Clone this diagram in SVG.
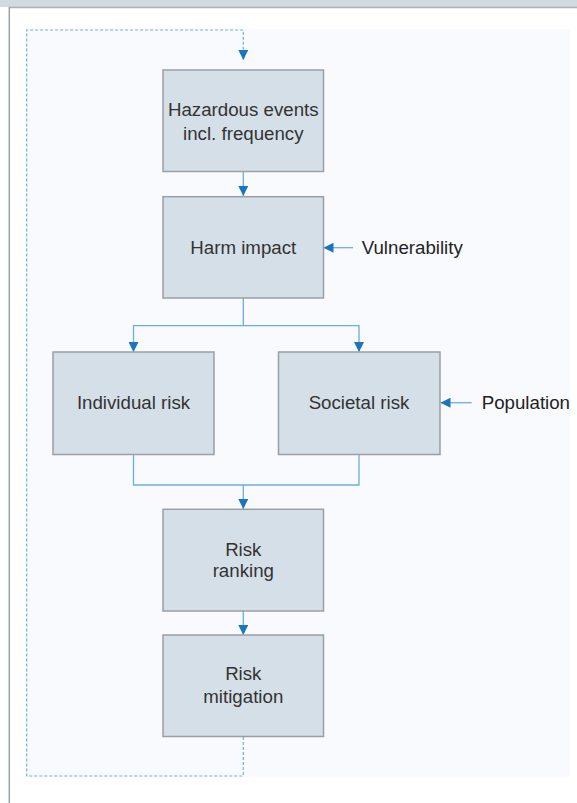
<svg xmlns="http://www.w3.org/2000/svg" width="577" height="803" viewBox="0 0 577 803">
<style>
.box{fill:#d5dfe8;stroke:#9a9fa4;stroke-width:1.5}
.t{font-family:"Liberation Sans",Arial,sans-serif;font-size:18.7px;fill:#333;text-anchor:middle}
.lbl{font-family:"Liberation Sans",Arial,sans-serif;font-size:18.7px;fill:#222}
.c{fill:none;stroke:#6aaee0;stroke-width:1.3}
.d{fill:none;stroke:#6ab4e6;stroke-width:1.2;stroke-dasharray:3 2}
</style>
<defs>
<marker id="ah" viewBox="0 0 10 10" refX="10" refY="5" markerWidth="10" markerHeight="10" markerUnits="userSpaceOnUse" orient="auto">
<path d="M0,0 L10,5 L0,10 Z" fill="#1b74be"/>
</marker>
<clipPath id="clip"><rect x="0" y="0" width="570" height="803"/></clipPath>
</defs>
<rect width="577" height="803" fill="#fff"/>
<rect x="0" y="0" width="577" height="7" fill="#d1d9e1"/>
<line x1="9" y1="7.5" x2="577" y2="7.5" stroke="#a9b1b9" stroke-width="1.5"/>
<line x1="9.3" y1="7" x2="9.3" y2="803" stroke="#9aa2aa" stroke-width="1.5"/>
<rect x="26" y="29" width="544" height="748" fill="#f9fafd"/>
<g id="connectors">
<path class="d" d="M243.3,737 V776 H26.7 V30 H243.3 V60" marker-end="url(#ah)"/>
<path class="c" d="M243.3,171.5 V196" marker-end="url(#ah)"/>
<path class="c" d="M243.3,298 V325.7 H133.5 V352" marker-end="url(#ah)"/>
<path class="c" d="M243.3,325.7 H359 V352" marker-end="url(#ah)"/>
<path class="c" d="M353,247.7 H323.5" marker-end="url(#ah)"/>
<path class="c" d="M471.7,402.7 H440.5" marker-end="url(#ah)"/>
<path class="c" d="M133.5,454.5 V485 H359 V454.5"/>
<path class="c" d="M243.3,485 V509" marker-end="url(#ah)"/>
<path class="c" d="M243.3,611 V635" marker-end="url(#ah)"/>
</g>
<g id="hazardous">
<rect class="box" x="163" y="70" width="160.5" height="101.5"/>
<text class="t" x="243.3" y="116">Hazardous events</text>
<text class="t" x="243.3" y="139.5">incl. frequency</text>
</g>
<g id="harm">
<rect class="box" x="163" y="196.7" width="160.5" height="101.3"/>
<text class="t" x="243.3" y="254.3">Harm impact</text>
</g>
<g id="vulnerability">
<text class="lbl" x="361.7" y="254.3">Vulnerability</text>
</g>
<g id="individual">
<rect class="box" x="53" y="352" width="161" height="102.5"/>
<text class="t" x="133.5" y="409.3">Individual risk</text>
</g>
<g id="societal">
<rect class="box" x="278.5" y="352" width="161.5" height="102.5"/>
<text class="t" x="359" y="409.3">Societal risk</text>
</g>
<g id="population">
<text class="lbl" x="481.7" y="409.3" clip-path="url(#clip)">Population</text>
</g>
<g id="ranking">
<rect class="box" x="163" y="509.3" width="160.5" height="101.7"/>
<text class="t" x="243.3" y="555.8">Risk</text>
<text class="t" x="243.3" y="577">ranking</text>
</g>
<g id="mitigation">
<rect class="box" x="163" y="635" width="160.5" height="101.5"/>
<text class="t" x="243.3" y="679.8">Risk</text>
<text class="t" x="243.3" y="702.5">mitigation</text>
</g>
</svg>
